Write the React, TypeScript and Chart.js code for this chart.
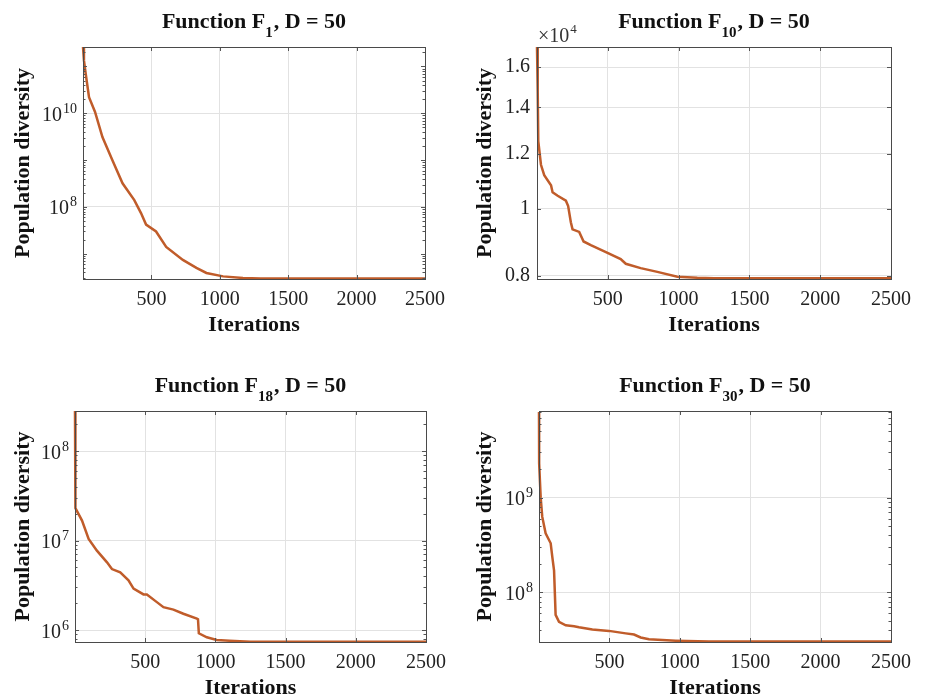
import React, { useEffect, useRef } from "react";
import { Chart, registerables } from "chart.js";
Chart.register(...registerables);

const FONT = "'Liberation Serif', 'Times New Roman', serif";
const LINE_COLOR = "#C05C2A";

const xTicks = [500, 1000, 1500, 2000, 2500];

// Function F1
const f1Iter = [0, 7, 20, 44, 88, 142, 215, 289, 375, 424, 461, 534, 608, 730, 829, 902, 1024, 1169, 1300, 2500];
const f1Vals = [2.6e11, 1.35e11, 6.9e10, 2.2e10, 1.07e10, 3.1e9, 1.0e9, 3.2e8, 1.4e8, 7.4e7, 4.2e7, 3.0e7, 1.4e7, 7.4e6, 5.0e6, 3.9e6, 3.3e6, 3.05e6, 2.98e6, 2.98e6];
const f1Ticks = [1e8, 1e10];
const f1TickExps = ["8", "10"];

// Function F10
const f10Iter = [0, 5, 9, 28, 51, 99, 110, 146, 204, 220, 239, 251, 298, 329, 380, 498, 591, 627, 732, 850, 991, 1132, 1250, 2500];
const f10Vals = [17100, 14780, 12510, 11570, 11180, 10810, 10560, 10440, 10270, 10090, 9560, 9340, 9260, 8970, 8860, 8640, 8460, 8330, 8210, 8110, 7980, 7950, 7940, 7940];
const f10Ticks = [8000, 10000, 12000, 14000, 16000];
const f10TickLabels = ["0.8", "1", "1.2", "1.4", "1.6"];

// Function F18
const f18Iter = [0, 3, 50, 97, 156, 228, 263, 322, 381, 417, 488, 512, 583, 630, 701, 772, 868, 876, 882, 939, 1010, 1100, 1250, 2500];
const f18Vals = [2.8e8, 2.3e7, 1.67e7, 1.04e7, 7.7e6, 5.7e6, 4.8e6, 4.4e6, 3.6e6, 2.9e6, 2.5e6, 2.5e6, 2.05e6, 1.8e6, 1.69e6, 1.52e6, 1.34e6, 1.32e6, 9.2e5, 8.3e5, 7.75e5, 7.6e5, 7.42e5, 7.42e5];
const f18Ticks = [1e6, 1e7, 1e8];
const f18TickExps = ["6", "7", "8"];

// Function F30
const f30Iter = [0, 1, 12, 23, 47, 83, 94, 107, 118, 142, 190, 249, 284, 379, 497, 616, 675, 722, 781, 971, 1207, 2500];
const f30Vals = [8e9, 2.3e9, 1.0e9, 6.3e8, 4.2e8, 3.3e8, 2.4e8, 1.7e8, 5.8e7, 4.9e7, 4.5e7, 4.4e7, 4.3e7, 4.07e7, 3.93e7, 3.7e7, 3.6e7, 3.35e7, 3.2e7, 3.1e7, 3.03e7, 3.03e7];
const f30Ticks = [1e8, 1e9];
const f30TickExps = ["8", "9"];

type Area = { left: number; top: number; right: number; bottom: number };
type PanelCfg = {
  pos: { left: number; top: number; width: number; height: number };
  area: Area;
  iter: number[];
  vals: number[];
  yMin: number;
  yMax: number;
  ticks: number[];
  tickLabels?: string[];
  tickExps?: string[];
  sub: string;
  titleBaseline: number;
  xTitlePad: number;
  exponent?: string;
};

const panels: PanelCfg[] = [
  {
    pos: { left: 0, top: 0, width: 462, height: 350 },
    area: { left: 83, top: 47, right: 425, bottom: 279 },
    iter: f1Iter, vals: f1Vals, yMin: 2.9e6, yMax: 2.6e11,
    ticks: f1Ticks, tickExps: f1TickExps, sub: "1", titleBaseline: 28, xTitlePad: 11,
  },
  {
    pos: { left: 462, top: 0, width: 463, height: 350 },
    area: { left: 75, top: 47, right: 429, bottom: 279 },
    iter: f10Iter, vals: f10Vals, yMin: 7920, yMax: 17100,
    ticks: f10Ticks, tickLabels: f10TickLabels, sub: "10", titleBaseline: 28, xTitlePad: 11, exponent: "4",
  },
  {
    pos: { left: 0, top: 350, width: 462, height: 349 },
    area: { left: 75, top: 61, right: 426, bottom: 292 },
    iter: f18Iter, vals: f18Vals, yMin: 7.35e5, yMax: 2.8e8,
    ticks: f18Ticks, tickExps: f18TickExps, sub: "18", titleBaseline: 42, xTitlePad: -3,
  },
  {
    pos: { left: 462, top: 350, width: 463, height: 349 },
    area: { left: 77, top: 61, right: 429, bottom: 292 },
    iter: f30Iter, vals: f30Vals, yMin: 3.0e7, yMax: 8.2e9,
    ticks: f30Ticks, tickExps: f30TickExps, sub: "30", titleBaseline: 42, xTitlePad: -3,
  },
];

function Panel({ cfg }: { cfg: PanelCfg }) {
  const ref = useRef<HTMLCanvasElement | null>(null);
  useEffect(() => {
    const canvas = ref.current;
    if (!canvas) return;
    const { pos, area } = cfg;
    const decor = {
      id: "decor",
      afterDraw(chart: any) {
        const ctx = chart.ctx;
        const ca = chart.chartArea;
        const xs = chart.scales.x;
        const ys = chart.scales.y;
        ctx.save();
        // inner tick marks
        ctx.strokeStyle = "#555";
        ctx.lineWidth = 1;
        ctx.beginPath();
        xTicks.forEach((v) => {
          const px = Math.round(xs.getPixelForValue(v)) + 0.5;
          ctx.moveTo(px, ca.bottom);
          ctx.lineTo(px, ca.bottom - 4);
          ctx.moveTo(px, ca.top);
          ctx.lineTo(px, ca.top + 4);
        });
        if (cfg.tickExps) {
          const lo = Math.floor(Math.log10(cfg.yMin));
          const hi = Math.ceil(Math.log10(cfg.yMax));
          for (let e = lo; e <= hi; e++) {
            for (let k = 1; k <= 9; k++) {
              const v = k * Math.pow(10, e);
              if (v < cfg.yMin || v > cfg.yMax) continue;
              const py = Math.round(ys.getPixelForValue(v)) + 0.5;
              const len = k === 1 ? 4 : 2.5;
              ctx.moveTo(ca.left, py);
              ctx.lineTo(ca.left + len, py);
              ctx.moveTo(ca.right, py);
              ctx.lineTo(ca.right - len, py);
            }
          }
        } else {
          cfg.ticks.forEach((v) => {
            const py = Math.round(ys.getPixelForValue(v)) + 0.5;
            ctx.moveTo(ca.left, py);
            ctx.lineTo(ca.left + 4, py);
            ctx.moveTo(ca.right, py);
            ctx.lineTo(ca.right - 4, py);
          });
        }
        ctx.stroke();
        // axes box
        ctx.strokeStyle = "#4a4a4a";
        ctx.strokeRect(Math.round(ca.left) + 0.5, Math.round(ca.top) + 0.5, Math.round(ca.right - ca.left), Math.round(ca.bottom - ca.top));
        // power-of-ten tick labels
        ctx.fillStyle = "#222";
        ctx.textAlign = "left";
        ctx.textBaseline = "alphabetic";
        if (cfg.tickExps) {
          cfg.ticks.forEach((v, i) => {
            const py = ys.getPixelForValue(v);
            const exp = cfg.tickExps![i];
            ctx.font = `14px ${FONT}`;
            const ew = ctx.measureText(exp).width;
            ctx.font = `20px ${FONT}`;
            const bw = ctx.measureText("10").width;
            const right = ca.left - 6;
            ctx.fillText("10", right - ew - bw - 1, py + 7.5);
            ctx.font = `14px ${FONT}`;
            ctx.fillText(exp, right - ew, py - 0.5);
          });
        }
        // title with subscript
        const main = "Function F";
        const rest = ", D = 50";
        const fMain = `bold 22px ${FONT}`;
        const fSub = `bold 15px ${FONT}`;
        ctx.font = fMain;
        const w1 = ctx.measureText(main).width;
        const w3 = ctx.measureText(rest).width;
        ctx.font = fSub;
        const w2 = ctx.measureText(cfg.sub).width + 1;
        const total = w1 + w2 + w3;
        let x = (ca.left + ca.right) / 2 - total / 2;
        const yb = cfg.titleBaseline;
        ctx.fillStyle = "#111";
        ctx.font = fMain;
        ctx.fillText(main, x, yb);
        x += w1;
        ctx.font = fSub;
        ctx.fillText(cfg.sub, x, yb + 9);
        x += w2;
        ctx.font = fMain;
        ctx.fillText(rest, x, yb);
        // exponent label
        if (cfg.exponent) {
          ctx.fillStyle = "#333";
          ctx.font = `20px ${FONT}`;
          const base = "×10";
          const bx = ca.left + 1;
          ctx.fillText(base, bx, 42);
          const bw = ctx.measureText(base).width;
          ctx.font = `13px ${FONT}`;
          ctx.fillText(cfg.exponent, bx + bw + 1, 33);
        }
        ctx.restore();
      },
    };
    const chart = new Chart(canvas, {
      type: "line",
      data: {
        datasets: [
          {
            data: cfg.iter.map((it, i) => ({ x: it, y: cfg.vals[i] })),
            borderColor: LINE_COLOR,
            borderWidth: 2.5,
            pointRadius: 0,
            tension: 0,
            fill: false,
            clip: 4,
          } as any,
        ],
      },
      options: {
        animation: false,
        responsive: false,
        maintainAspectRatio: false,
        layout: { padding: { left: 0, top: area.top, right: pos.width - area.right, bottom: 0 } },
        plugins: { legend: { display: false }, tooltip: { enabled: false }, title: { display: false } },
        scales: {
          x: {
            type: "linear",
            min: 0,
            max: 2500,
            afterBuildTicks: (s: any) => {
              s.ticks = xTicks.map((v) => ({ value: v }));
            },
            afterFit: (s: any) => {
              s.height = pos.height - area.bottom;
            },
            grid: { color: "#e2e2e2", lineWidth: 1, drawTicks: false },
            border: { display: false },
            ticks: {
              padding: 9,
              autoSkip: false,
              maxRotation: 0,
              color: "#222",
              font: { family: FONT, size: 20 },
              callback: (v: any) => String(v),
            },
            title: {
              display: true,
              text: "Iterations",
              color: "#111",
              font: { family: FONT, size: 22, weight: "bold" },
              padding: { top: 0, bottom: cfg.xTitlePad },
            },
          },
          y: {
            type: "logarithmic",
            min: cfg.yMin,
            max: cfg.yMax,
            afterBuildTicks: (s: any) => {
              s.ticks = cfg.ticks.map((v) => ({ value: v }));
            },
            afterFit: (s: any) => {
              s.width = area.left;
            },
            grid: { color: "#e2e2e2", lineWidth: 1, drawTicks: false },
            border: { display: false },
            ticks: {
              display: !cfg.tickExps,
              padding: 7,
              autoSkip: false,
              color: "#222",
              font: { family: FONT, size: 20 },
              callback: (v: any) => {
                const idx = cfg.ticks.indexOf(Number(v));
                return idx >= 0 && cfg.tickLabels ? cfg.tickLabels[idx] : "";
              },
            },
            title: {
              display: true,
              text: "Population diversity",
              color: "#111",
              font: { family: FONT, size: 22, weight: "bold" },
              padding: { top: 10, bottom: 0 },
            },
          },
        },
      } as any,
      plugins: [decor],
    });
    return () => chart.destroy();
  }, [cfg]);
  return (
    <canvas
      ref={ref}
      width={cfg.pos.width}
      height={cfg.pos.height}
      style={{
        position: "absolute",
        left: cfg.pos.left,
        top: cfg.pos.top,
        width: cfg.pos.width,
        height: cfg.pos.height,
      }}
    />
  );
}

export default function App() {
  return (
    <div style={{ position: "fixed", left: 0, top: 0, width: 925, height: 699, background: "#fff", overflow: "hidden" }}>
      {panels.map((p, i) => (
        <Panel key={i} cfg={p} />
      ))}
    </div>
  );
}
